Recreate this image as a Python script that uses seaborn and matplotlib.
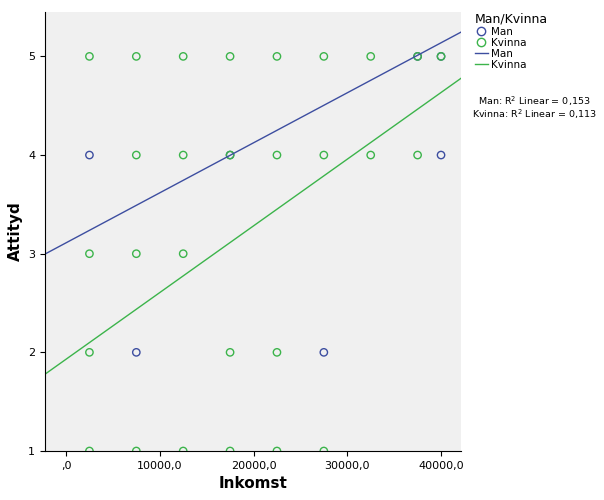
import numpy as np
import pandas as pd
import matplotlib.pyplot as plt
import seaborn as sns
from matplotlib.lines import Line2D

man_x = [2500, 7500, 17500, 27500, 37500, 40000, 40000]
man_y = [4, 2, 4, 2, 5, 5, 4]
kv_x = [2500, 7500, 12500, 17500, 22500, 27500, 32500, 37500, 40000,
        7500, 12500, 17500, 22500, 27500, 32500, 37500,
        2500, 7500, 12500,
        2500, 17500, 22500,
        2500, 7500, 12500, 17500, 22500, 27500]
kv_y = [5] * 9 + [4] * 7 + [3] * 3 + [2] * 3 + [1] * 6

# fit lines (intercept, slope)
fit_man = (3.11, 5.07e-5)
fit_kv = (1.93, 6.76e-5)
r2_man = "0,153"
r2_kv = "0,113"

blue = "#3d4ea0"
green = "#3cb44b"

df = pd.DataFrame({
    "Inkomst": man_x + kv_x,
    "Attityd": man_y + kv_y,
    "Kon": ["Man"] * len(man_x) + ["Kvinna"] * len(kv_x),
})

fig = plt.figure(figsize=(6.04, 5.0), dpi=100)
ax = fig.add_axes([45 / 604, 49 / 500, 416 / 604, 439 / 500])
ax.set_facecolor("#f0f0f0")

sns.scatterplot(data=df, x="Inkomst", y="Attityd", hue="Kon",
                palette={"Man": blue, "Kvinna": green}, ax=ax, legend=False,
                s=28, linewidth=1.0, marker="o")
# make markers hollow
for coll in ax.collections:
    fc = coll.get_facecolors()
    coll.set_edgecolors(fc)
    coll.set_facecolors("none")

xlim = (-2240, 42130)
xs = np.array(xlim)
ax.plot(xs, fit_man[0] + fit_man[1] * xs, color=blue, lw=1)
ax.plot(xs, fit_kv[0] + fit_kv[1] * xs, color=green, lw=1)

ax.set_xlim(*xlim)
ax.set_ylim(1, 5.45)
ax.set_xticks([0, 10000, 20000, 30000, 40000])
ax.set_xticklabels([",0", "10000,0", "20000,0", "30000,0", "40000,0"], fontsize=8)
ax.set_yticks([1, 2, 3, 4, 5])
ax.set_yticklabels(["1", "2", "3", "4", "5"], fontsize=8)
ax.set_xlabel("Inkomst", fontsize=11, fontweight="bold")
ax.set_ylabel("Attityd", fontsize=11, fontweight="bold")
for s in ["top", "right"]:
    ax.spines[s].set_visible(False)

handles = [
    Line2D([], [], marker="o", ls="none", mfc="none", mec=blue, label="Man"),
    Line2D([], [], marker="o", ls="none", mfc="none", mec=green, label="Kvinna"),
    Line2D([], [], color=blue, lw=1, label="Man"),
    Line2D([], [], color=green, lw=1, label="Kvinna"),
]
leg = fig.legend(handles=handles, title="Man/Kvinna", loc="upper left",
                 bbox_to_anchor=(470 / 604, 0.985), frameon=False,
                 fontsize=7.5, title_fontsize=9, handlelength=1.2,
                 handletextpad=0.3, labelspacing=0.1, borderpad=0)
leg._legend_box.align = "left"
fig.text(534 / 604, 1 - 101 / 500, "Man: R$^2$ Linear = " + r2_man,
         ha="center", va="center", fontsize=6.8)
fig.text(534 / 604, 1 - 114 / 500, "Kvinna: R$^2$ Linear = " + r2_kv,
         ha="center", va="center", fontsize=6.8)

fig.savefig("out.png", dpi=100)
